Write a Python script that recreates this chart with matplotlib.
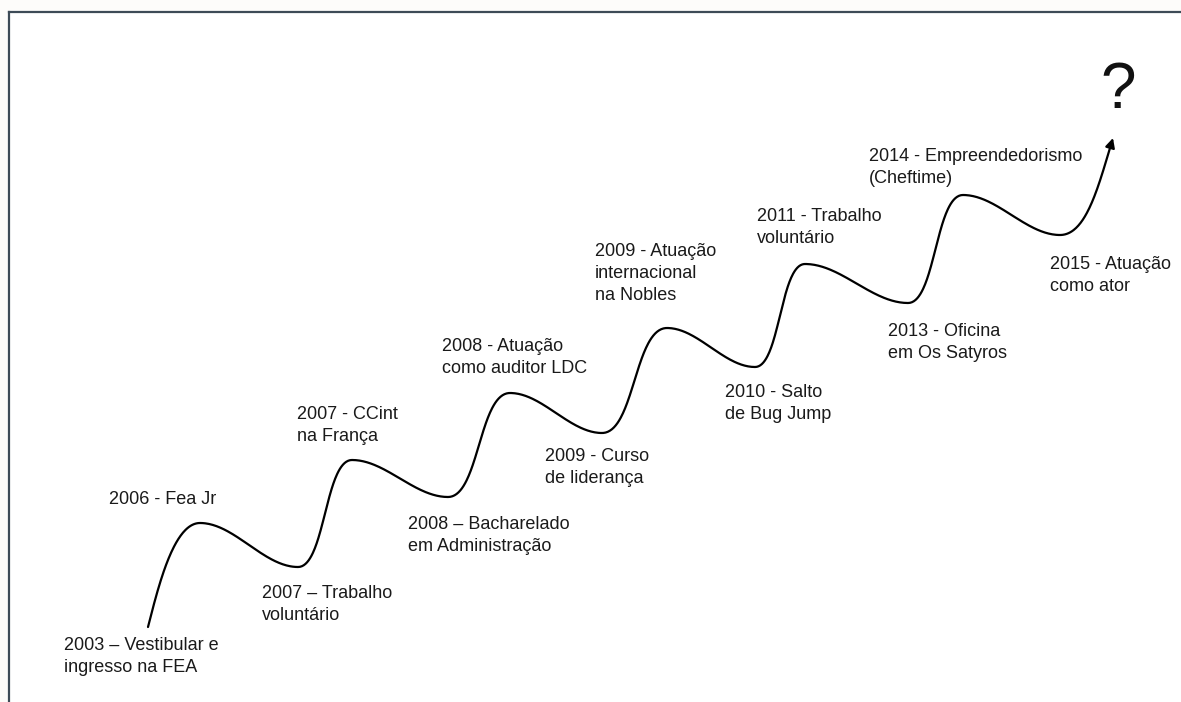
import numpy as np
import matplotlib
matplotlib.use("Agg")
import matplotlib.pyplot as plt

plt.rcParams['font.family'] = ['Liberation Sans', 'DejaVu Sans']

# knots of the wavy path (pixel coords, y grows downward)
knot_x = [148, 200, 298, 352, 448, 510, 602, 667, 755, 805, 908, 963, 1060, 1113]
knot_y = [627, 523, 567, 460, 497, 393, 433, 328, 367, 264, 303, 195, 235, 138]

labels = [
    "2003 \u2013 Vestibular e\ningresso na FEA",
    "2006 - Fea Jr",
    "2007 \u2013 Trabalho\nvolunt\u00e1rio",
    "2007 - CCint\nna Fran\u00e7a",
    "2008 \u2013 Bacharelado\nem Administra\u00e7\u00e3o",
    "2008 - Atua\u00e7\u00e3o\ncomo auditor LDC",
    "2009 - Curso\nde lideran\u00e7a",
    "2009 - Atua\u00e7\u00e3o\ninternacional\nna Nobles",
    "2010 - Salto\nde Bug Jump",
    "2011 - Trabalho\nvolunt\u00e1rio",
    "2013 - Oficina\nem Os Satyros",
    "2014 - Empreendedorismo\n(Cheftime)",
    "2015 - Atua\u00e7\u00e3o\ncomo ator",
]
label_x = [64, 109, 262, 297, 408, 442, 545, 595, 725, 757, 888, 869, 1050]
label_y = [637, 491, 585, 406, 516, 338, 448, 243, 384, 208, 323, 148, 256]


def hermite(p0, p1, m0, m1, n=80):
    t = np.linspace(0, 1, n)[:, None]
    h00 = 2 * t**3 - 3 * t**2 + 1
    h10 = t**3 - 2 * t**2 + t
    h01 = -2 * t**3 + 3 * t**2
    h11 = t**3 - t**2
    return h00 * p0 + h10 * m0 + h01 * p1 + h11 * m1


pts = np.column_stack([knot_x, knot_y]).astype(float)
segs = []
nseg = len(pts) - 1
for i in range(nseg):
    p0, p1 = pts[i], pts[i + 1]
    dx = p1[0] - p0[0]
    rising = p1[1] < p0[1]
    k = 1.5 * dx if rising else 1.05 * dx
    m0 = np.array([k, 0.0])
    m1 = np.array([k, 0.0])
    if i == 0:
        d = np.array([12.0, -47.0])
        m0 = d / np.linalg.norm(d) * 130
    if i == nseg - 1:
        d = np.array([10.0, -33.0])
        m1 = d / np.linalg.norm(d) * 150
    segs.append(hermite(p0, p1, m0, m1))
curve = np.vstack(segs)

fig = plt.figure(figsize=(11.81, 7.02), dpi=100)
fig.patch.set_facecolor('#fdfcfa')
ax = fig.add_axes([0, 0, 1, 1])
ax.set_xlim(0, 1181)
ax.set_ylim(702, 0)
ax.axis('off')

# slide frame
ax.fill_between([9, 1181], 12, 702, color='white', zorder=0)
ax.plot([9, 1181], [12, 12], color='#3d4b57', lw=1.6, zorder=1)
ax.plot([9, 9], [12, 702], color='#3d4b57', lw=1.6, zorder=1)
for cx in [14, 44, 74]:
    ax.add_patch(plt.Circle((cx, 716), 13, fill=False, ec='#e2e2e2', lw=1.2))

ax.plot(curve[:-3, 0], curve[:-3, 1], color='black', lw=1.6, solid_capstyle='round')
ax.annotate('', xy=curve[-1], xytext=curve[-6],
            arrowprops=dict(arrowstyle='-|>', color='black', lw=1.6,
                            mutation_scale=14, shrinkA=0, shrinkB=0))

for txt, x, y in zip(labels, label_x, label_y):
    ax.text(x, y, txt, fontsize=13, ha='left', va='top', color='#1a1a1a',
            linespacing=1.38)

ax.text(1118, 108, '?', fontsize=46, ha='center', va='baseline', color='#111111')

fig.savefig('out.png', dpi=100)
